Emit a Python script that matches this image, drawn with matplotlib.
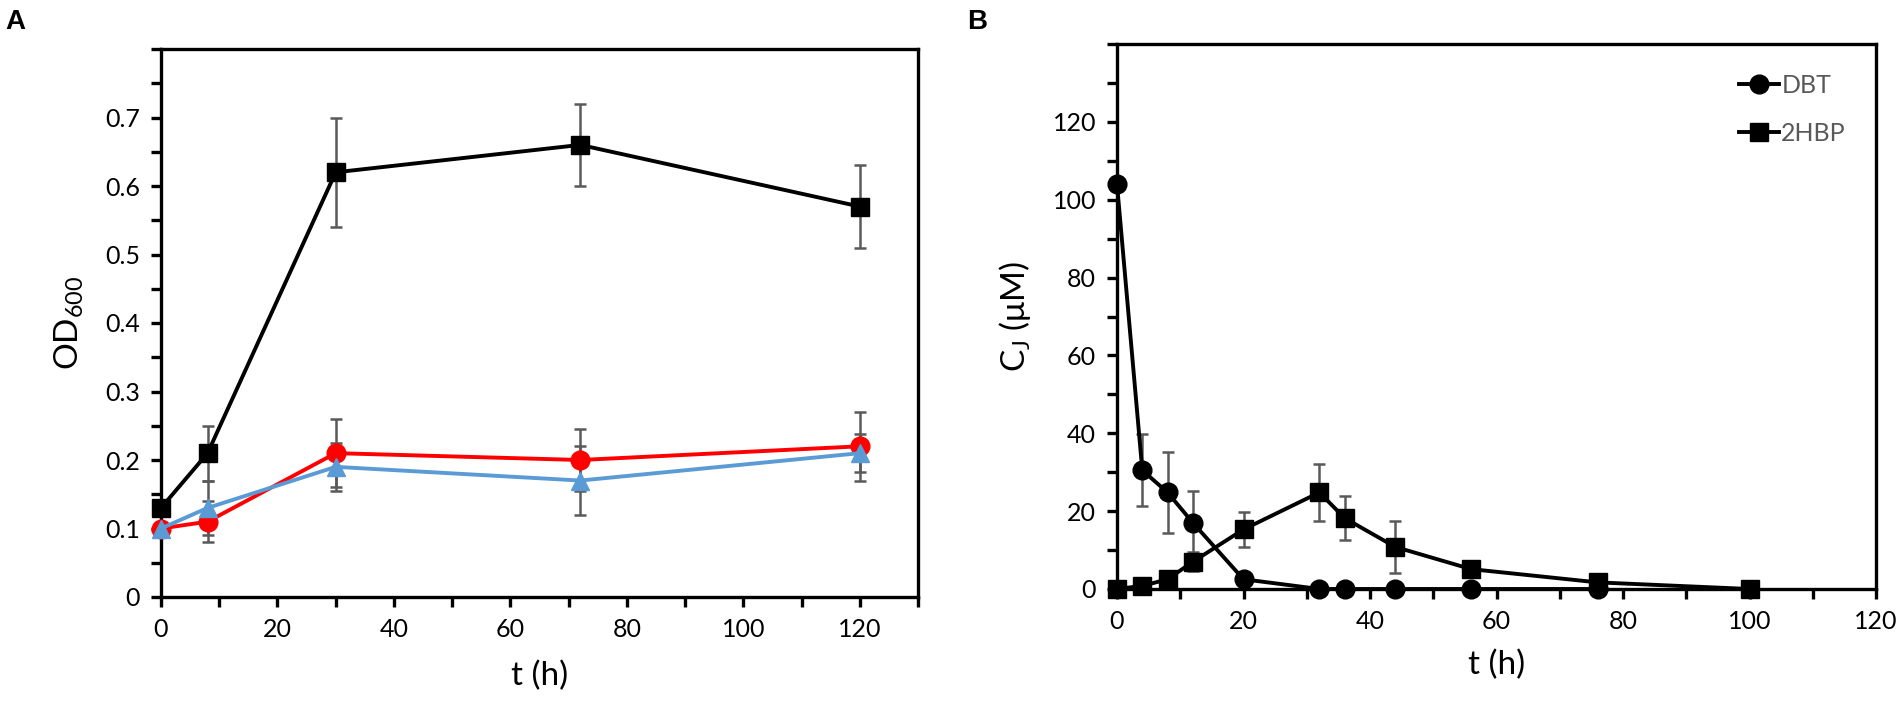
import numpy as np
import matplotlib
matplotlib.use('Agg')
import matplotlib.pyplot as plt
from matplotlib.ticker import MultipleLocator, FuncFormatter

plt.rcParams['font.family'] = ['Lato', 'DejaVu Sans']
plt.rcParams['mathtext.default'] = 'regular'

# panel A: growth (OD600)
t_a = [0, 8, 30, 72, 120]
od_black = [0.13, 0.21, 0.62, 0.66, 0.57]
err_black = [0, 0.04, 0.08, 0.06, 0.06]
od_red = [0.10, 0.11, 0.21, 0.20, 0.22]
err_red = [0, 0.03, 0.05, 0.045, 0.05]
od_blue = [0.10, 0.13, 0.19, 0.17, 0.21]
err_blue = [0, 0.04, 0.035, 0.05, 0.028]

# panel B: concentrations
t_dbt = [0, 4, 8, 12, 20, 32, 36, 44, 56, 76]
c_dbt = [104, 30.5, 24.8, 17, 2.5, 0, 0, 0, 0, 0]
err_dbt = [0, 9.3, 10.3, 8.3, 0, 0, 0, 0, 0, 0]
t_hbp = [0, 4, 8, 12, 20, 32, 36, 44, 56, 76, 100]
c_hbp = [0, 0.8, 2.5, 7, 15.3, 24.8, 18.2, 10.8, 5.1, 1.7, 0]
err_hbp = [0, 0, 0, 2.5, 4.6, 7.3, 5.6, 6.7, 0, 0, 0]

W, H = 1904, 708
fig = plt.figure(figsize=(W / 100, H / 100), dpi=100)
axA = fig.add_axes([161 / W, 1 - 597 / H, (918 - 161) / W, (597 - 49) / H])
axB = fig.add_axes([1117 / W, 1 - 589 / H, (1876 - 1117) / W, (589 - 44) / H])

ecol = '#595959'
lw = 2.8
ms = 13.5
ebar = dict(ecolor=ecol, elinewidth=1.8, capsize=4, capthick=1.8)


def style_axis(ax):
    for s in ax.spines.values():
        s.set_linewidth(2.4)
    ax.tick_params(which='both', direction='out', width=2.4, labelsize=18,
                   colors='black', pad=8)
    ax.tick_params(which='major', length=7)
    ax.tick_params(which='minor', length=7)


# ---- panel A
for y, e, c, m in [(od_black, err_black, 'black', 's'),
                   (od_red, err_red, '#FF0000', 'o'),
                   (od_blue, err_blue, '#5B9BD5', '^')]:
    axA.errorbar(t_a, y, yerr=e, fmt='none', zorder=2, **ebar)
    axA.plot(t_a, y, color=c, marker=m, ms=ms, lw=lw, zorder=3, clip_on=False)

axA.set_xlim(0, 130)
axA.set_ylim(0, 0.8)
axA.xaxis.set_minor_locator(MultipleLocator(10))
axA.yaxis.set_minor_locator(MultipleLocator(0.05))
axA.set_xticks([0, 20, 40, 60, 80, 100, 120])
axA.set_yticks([0, 0.1, 0.2, 0.3, 0.4, 0.5, 0.6, 0.7])
axA.yaxis.set_major_formatter(FuncFormatter(lambda v, p: f'{v:g}'))
style_axis(axA)
axA.set_xlabel('t (h)', fontsize=24, labelpad=14)
axA.set_ylabel('OD$_{600}$', fontsize=24, labelpad=14)

# ---- panel B
axB.errorbar(t_dbt, c_dbt, yerr=err_dbt, fmt='none', zorder=2, **ebar)
axB.errorbar(t_hbp, c_hbp, yerr=err_hbp, fmt='none', zorder=2, **ebar)
axB.plot(t_dbt, c_dbt, color='black', marker='o', ms=ms, lw=lw, zorder=3,
         clip_on=False, label='DBT')
axB.plot(t_hbp, c_hbp, color='black', marker='s', ms=ms, lw=lw, zorder=3,
         clip_on=False, label='2HBP')
axB.set_xlim(0, 120)
axB.set_ylim(0, 140)
axB.xaxis.set_major_locator(MultipleLocator(20))
axB.xaxis.set_minor_locator(MultipleLocator(10))
axB.yaxis.set_minor_locator(MultipleLocator(10))
axB.set_yticks([0, 20, 40, 60, 80, 100, 120])
style_axis(axB)
axB.set_xlabel('t (h)', fontsize=24, labelpad=12)
axB.set_ylabel('C$_{J}$ (μM)', fontsize=24, labelpad=14)
leg = axB.legend(loc='upper right', frameon=False, fontsize=18, handlelength=1.6,
                 handletextpad=0.1, labelspacing=1.0, borderaxespad=0.8)
for txt in leg.get_texts():
    txt.set_color('#595959')

fig.text(5 / W, 1 - 22 / H, 'A', fontsize=20, fontweight='bold',
         family='Liberation Sans', va='center')
fig.text(967 / W, 1 - 22 / H, 'B', fontsize=20, fontweight='bold',
         family='Liberation Sans', va='center')

fig.savefig('out.png', dpi=100)
